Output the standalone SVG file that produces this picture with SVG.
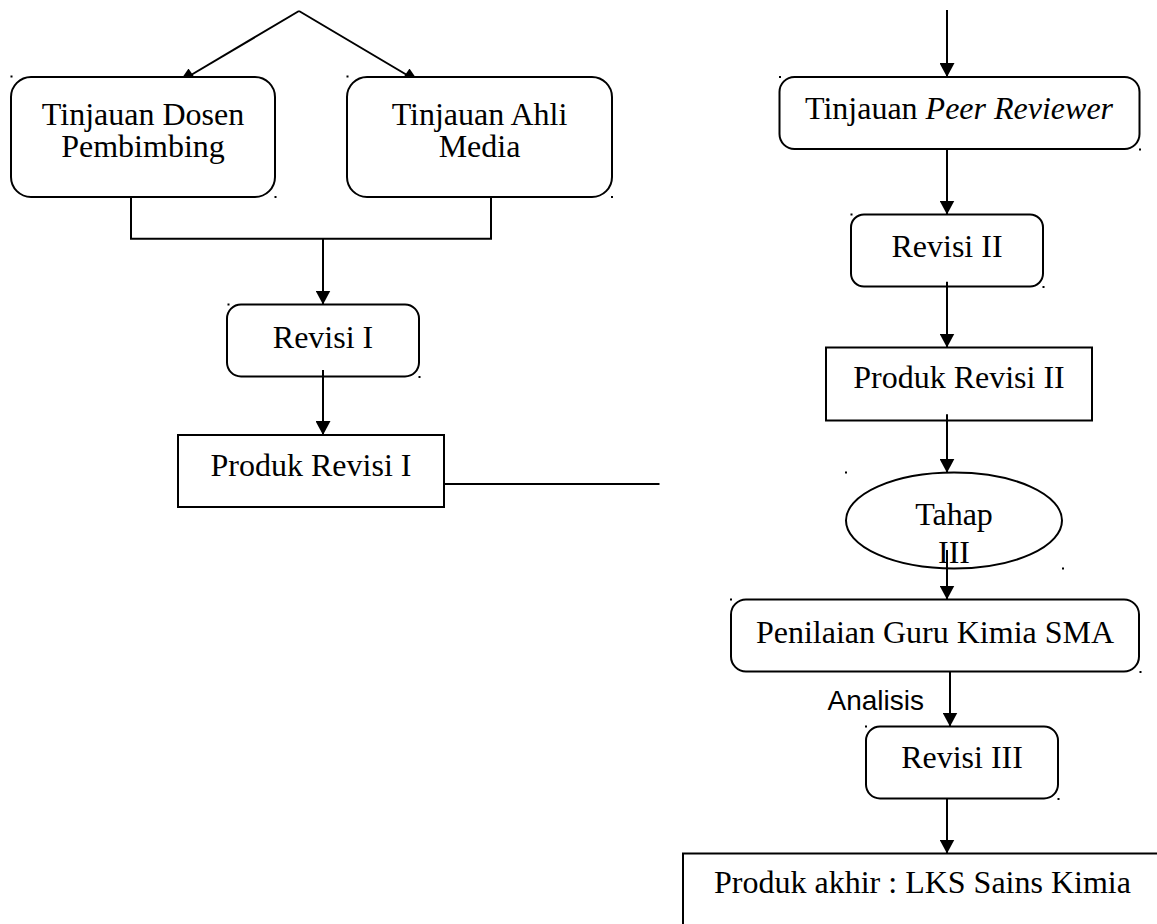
<svg xmlns="http://www.w3.org/2000/svg" width="1157" height="924" viewBox="0 0 1157 924">
<style>
.box{fill:#fff;stroke:#000;stroke-width:2}
.t{font-family:"Liberation Serif","Times New Roman",serif;font-size:32px;fill:#000;text-anchor:middle}
.lbl{font-family:"Liberation Sans",Arial,sans-serif;font-size:28px;fill:#000;text-anchor:end}
.c{fill:none;stroke:#000;stroke-width:2}
.arr{marker-end:url(#ah)}
.dot{fill:#000}
</style>
<defs>
<marker id="ah" markerUnits="userSpaceOnUse" viewBox="0 0 14 15" markerWidth="14" markerHeight="15" refX="14" refY="7.5" orient="auto">
<path d="M0,0 L14,7.5 L0,15 z" fill="#000"/>
</marker>
<marker id="up" markerUnits="userSpaceOnUse" viewBox="0 0 11 8" markerWidth="11" markerHeight="8" refX="5.5" refY="8" orient="0">
<path d="M0,8 L5.5,0 L11,8 z" fill="#000"/>
</marker>
</defs>
<rect width="1157" height="924" fill="#fff"/>

<g id="node-dosen">
<rect class="box" x="11" y="77" width="264" height="120" rx="20"/>
<text class="t" x="143" y="125">Tinjauan Dosen</text>
<text class="t" x="143" y="157">Pembimbing</text>
</g>
<g id="node-ahli">
<rect class="box" x="347" y="77" width="265" height="120" rx="20"/>
<text class="t" x="479.5" y="125">Tinjauan Ahli</text>
<text class="t" x="479.5" y="157">Media</text>
</g>
<g id="node-revisi1">
<rect class="box" x="227" y="304.5" width="192" height="72" rx="14"/>
<text class="t" x="323" y="348">Revisi I</text>
</g>
<g id="node-produk1">
<rect class="box" x="178" y="435" width="266" height="72"/>
<text class="t" x="311" y="476">Produk Revisi I</text>
</g>
<g id="node-peer">
<rect class="box" x="779.5" y="77" width="360" height="72" rx="15"/>
<text class="t" x="959" y="119">Tinjauan <tspan font-style="italic">Peer Reviewer</tspan></text>
</g>
<g id="node-revisi2">
<rect class="box" x="851" y="214.5" width="192" height="72" rx="13"/>
<text class="t" x="947" y="257">Revisi II</text>
</g>
<g id="node-produk2">
<rect class="box" x="826" y="347.5" width="266" height="73"/>
<text class="t" x="959" y="388">Produk Revisi II</text>
</g>
<g id="node-tahap3">
<ellipse class="box" cx="954" cy="520.5" rx="108" ry="48"/>
<text class="t" x="954" y="525">Tahap</text>
<text class="t" x="954" y="563">III</text>
</g>
<g id="node-penilaian">
<rect class="box" x="731" y="599.5" width="408" height="72" rx="15"/>
<text class="t" x="935" y="643">Penilaian Guru Kimia SMA</text>
</g>
<g id="node-revisi3">
<rect class="box" x="866" y="726.5" width="192" height="72" rx="14"/>
<text class="t" x="962" y="768">Revisi III</text>
</g>
<g id="node-produk-akhir">
<rect class="box" x="683" y="853.5" width="490" height="90"/>
<text class="t" x="922.5" y="893">Produk akhir : LKS Sains Kimia</text>
</g>

<g id="connectors">
<line class="c" x1="299" y1="11" x2="188.5" y2="76.5" marker-end="url(#up)"/>
<line class="c" x1="299" y1="11" x2="409.5" y2="76.5" marker-end="url(#up)"/>
<polyline class="c" points="131,197 131,238.7 491,238.7 491,197"/>
<line class="c arr" x1="323" y1="238.7" x2="323" y2="304.5"/>
<line class="c arr" x1="323" y1="370" x2="323" y2="435"/>
<line class="c" x1="444" y1="484" x2="659.5" y2="484"/>
<line class="c arr" x1="947" y1="10" x2="947" y2="77"/>
<line class="c arr" x1="947" y1="149" x2="947" y2="214.5"/>
<line class="c arr" x1="947" y1="281.7" x2="947" y2="347.5"/>
<line class="c arr" x1="947" y1="414.3" x2="947" y2="472.7"/>
<line class="c arr" x1="947" y1="550" x2="947" y2="599.5"/>
<line class="c arr" x1="950" y1="671.5" x2="950" y2="726.5"/>
<line class="c arr" x1="947" y1="798.5" x2="947" y2="853.5"/>
<text class="lbl" x="924" y="710">Analisis</text>
</g>

<g id="anchors">
<rect class="dot" x="10.5" y="75.5" width="2" height="2"/>
<rect class="dot" x="274.5" y="196" width="2" height="2"/>
<rect class="dot" x="346.5" y="75.5" width="2" height="2"/>
<rect class="dot" x="611" y="196" width="2" height="2"/>
<rect class="dot" x="227.5" y="303.5" width="2" height="2"/>
<rect class="dot" x="418.5" y="376" width="2" height="2"/>
<rect class="dot" x="779" y="76" width="2" height="2"/>
<rect class="dot" x="1139" y="148.5" width="2" height="2"/>
<rect class="dot" x="850.5" y="213.5" width="2" height="2"/>
<rect class="dot" x="1042.5" y="286" width="2" height="2"/>
<rect class="dot" x="845" y="471.5" width="2" height="2"/>
<rect class="dot" x="1062" y="567.5" width="2" height="2"/>
<rect class="dot" x="730" y="598.5" width="2" height="2"/>
<rect class="dot" x="1139.5" y="671" width="2" height="2"/>
<rect class="dot" x="865" y="725.5" width="2" height="2"/>
<rect class="dot" x="1057.5" y="798" width="2" height="2"/>
</g>
</svg>
